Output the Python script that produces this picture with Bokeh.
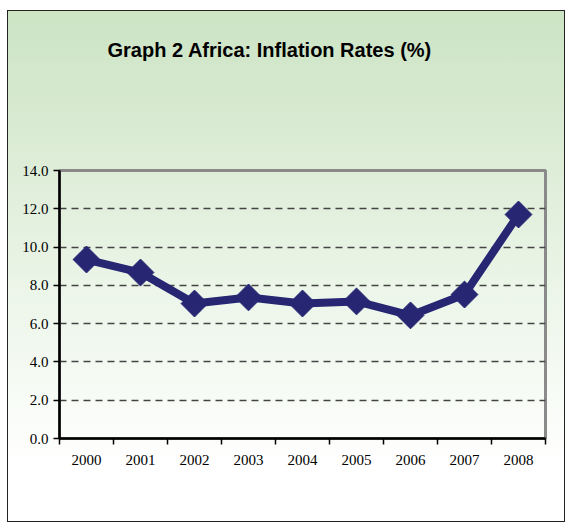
import numpy as np
from bokeh.plotting import figure
from bokeh.models import FixedTicker, Range1d, Title
from bokeh.embed import file_html
from bokeh.resources import INLINE

years = ["2000", "2001", "2002", "2003", "2004", "2005", "2006", "2007", "2008"]
inflation = [9.35, 8.67, 7.05, 7.37, 7.05, 7.16, 6.43, 7.52, 11.7]
y_ticks = [0, 2, 4, 6, 8, 10, 12, 14]
title_text = "Graph 2 Africa: Inflation Rates (%)"

xpos = np.arange(len(years)) + 0.5

p = figure(width=558, height=512, output_backend="svg", toolbar_location=None,
           x_range=Range1d(0, len(years)), y_range=Range1d(0, 14),
           min_border_left=51, min_border_right=21, min_border_top=159, min_border_bottom=85)
p.styles = {"background": "linear-gradient(to bottom, #cce4c4 0%, #dcecd6 28%, #edf6ea 57%, #fbfdfa 82%, #ffffff 90%)",
            "border": "1px solid #222", "margin-left": "7px", "margin-top": "10px"}
p.border_fill_color = None
p.background_fill_color = None
p.outline_line_color = "#8a8a8a"
p.outline_line_width = 3

# real title, with a blank spacer title between it and the frame
p.title.text = title_text
p.title.align = "left"
p.title.offset = 48
p.title.standoff = 0
p.title.text_font = "Liberation Sans"
p.title.text_font_style = "bold"
p.title.text_font_size = "20px"
p.title.text_color = "black"
p.add_layout(Title(text=" ", text_font_size="1px", standoff=107), "above")

# axes
p.xaxis.ticker = FixedTicker(ticks=list(xpos), minor_ticks=list(range(len(years) + 1)))
p.xaxis.major_label_overrides = {float(x): y for x, y in zip(xpos, years)}
p.xaxis.major_tick_line_color = None
p.xaxis.minor_tick_line_color = "black"
p.xaxis.minor_tick_line_width = 1.5
p.xaxis.minor_tick_out = 6
p.xaxis.minor_tick_in = 0
p.xaxis.major_label_standoff = 10

p.yaxis.ticker = FixedTicker(ticks=y_ticks)
p.yaxis.major_label_overrides = {t: f"{t:.1f}" for t in y_ticks}
p.yaxis.major_tick_out = 6
p.yaxis.major_tick_in = 0
p.yaxis.major_tick_line_width = 1.5
p.yaxis.minor_tick_line_color = None
p.yaxis.major_label_standoff = 5

for ax in (p.xaxis, p.yaxis):
    ax.axis_line_color = "black"
    ax.axis_line_width = 2.5
    ax.major_label_text_font = "Liberation Serif"
    ax.major_label_text_font_size = "15px"
    ax.major_label_text_color = "black"

p.xgrid.grid_line_color = None
p.ygrid.ticker = FixedTicker(ticks=y_ticks[1:-1])
p.ygrid.grid_line_color = "#444444"
p.ygrid.grid_line_width = 1.3
p.ygrid.grid_line_dash = "7 5"

p.line(xpos, inflation, line_color="#262672", line_width=8)
p.scatter(xpos, inflation, marker="square", size=19, angle=np.pi / 4,
          fill_color="#262672", line_color="#262672")

open("out.html", "w").write(file_html(p, INLINE))
